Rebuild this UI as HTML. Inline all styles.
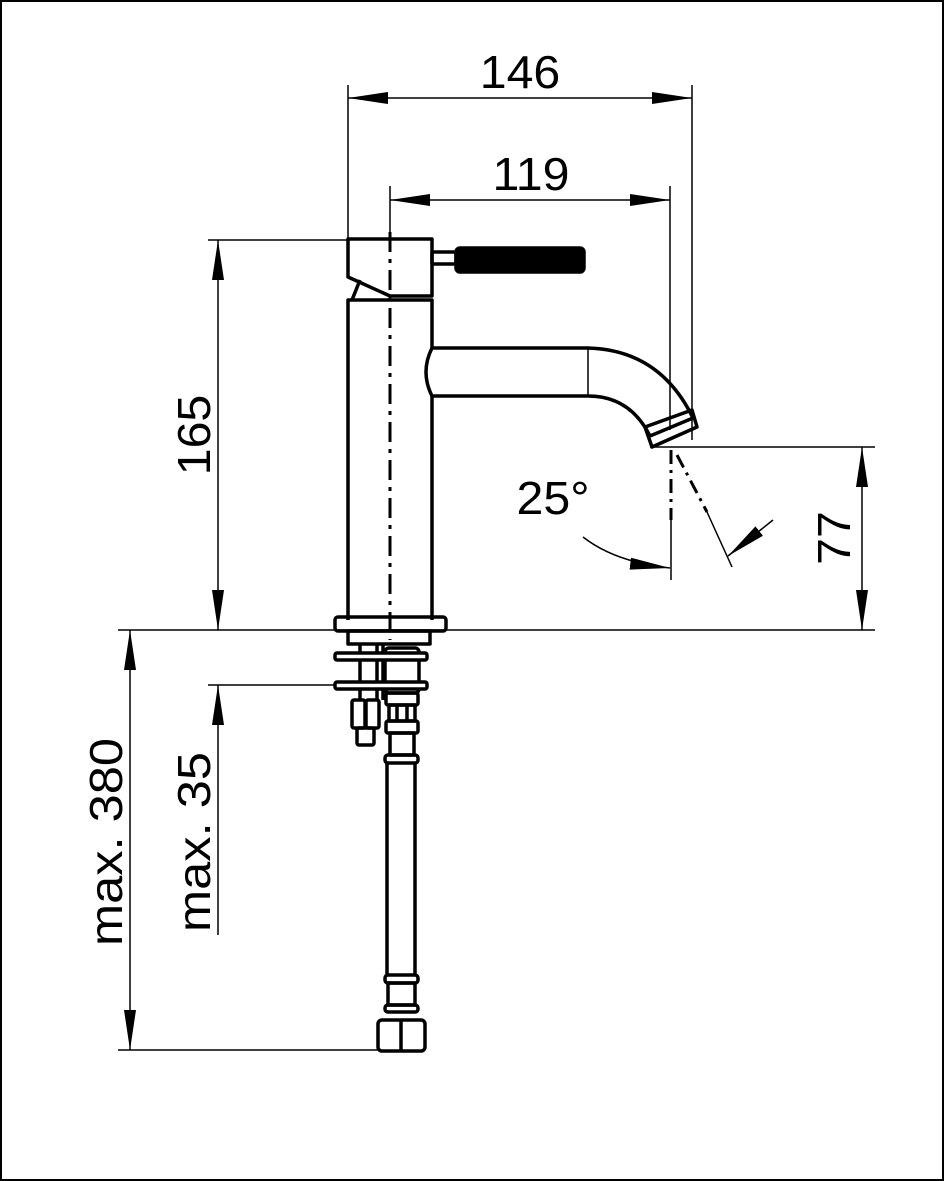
<!DOCTYPE html>
<html><head><style>html,body{margin:0;padding:0;background:#fff}svg{display:block}text{font-family:"Liberation Sans",sans-serif;font-size:46px;fill:#000}</style></head>
<body>
<svg width="944" height="1181" viewBox="0 0 944 1181" xmlns="http://www.w3.org/2000/svg">
<defs>
<marker id="a" viewBox="0 0 40 12" refX="40" refY="6" markerWidth="40" markerHeight="12" markerUnits="userSpaceOnUse" orient="auto-start-reverse"><path d="M0,0L40,6L0,12z" fill="#000"/></marker>
</defs>
<rect x="1" y="1" width="942" height="1179" fill="none" stroke="#000" stroke-width="2"/>
<g stroke="#000" stroke-width="1.5" fill="none">
<line x1="348" y1="85" x2="348" y2="240"/>
<line x1="692" y1="85" x2="692" y2="440"/>
<line x1="390" y1="186" x2="390" y2="236"/>
<line x1="670" y1="186" x2="670" y2="430"/>
<line x1="208" y1="240" x2="348" y2="240"/>
<line x1="118" y1="630" x2="875" y2="630"/>
<line x1="208" y1="685" x2="345" y2="685"/>
<line x1="118" y1="1050" x2="380" y2="1050"/>
<line x1="650" y1="447" x2="875" y2="447"/>
<line x1="348" y1="98" x2="692" y2="98" marker-start="url(#a)" marker-end="url(#a)"/>
<line x1="390" y1="200" x2="670" y2="200" marker-start="url(#a)" marker-end="url(#a)"/>
<line x1="218" y1="240" x2="218" y2="630" marker-start="url(#a)" marker-end="url(#a)"/>
<line x1="218" y1="935" x2="218" y2="685" marker-end="url(#a)"/>
<line x1="130" y1="630" x2="130" y2="1050" marker-start="url(#a)" marker-end="url(#a)"/>
<line x1="862" y1="447" x2="862" y2="630" marker-start="url(#a)" marker-end="url(#a)"/>
<line x1="671" y1="450" x2="671" y2="520" stroke-width="3" stroke-dasharray="14,6,3,6"/>
<line x1="671" y1="520" x2="671" y2="580"/>
<line x1="677" y1="455" x2="707" y2="512" stroke-width="3" stroke-dasharray="14,6,3,6"/>
<line x1="707" y1="512" x2="732" y2="567"/>
<path d="M583,537 Q615,562 670,568" marker-end="url(#a)"/>
<line x1="773" y1="520" x2="728" y2="556" marker-end="url(#a)"/>
<line x1="390" y1="232" x2="390" y2="640" stroke-width="3" stroke-dasharray="20,7,4,7"/>
</g>
<g stroke="#000" stroke-width="3.5" fill="none" stroke-linejoin="round">
<path d="M348,239 L432,239 L432,296 L390,296 L348,277 Z"/>
<path d="M360,280 L352,300"/>
<rect x="432" y="252" width="24" height="12"/>
<rect x="456" y="248" width="128" height="24" rx="4" fill="#000"/>
<path d="M348,620 L348,300 L432,300 L432,348 M432,396 L432,620"/>
<path d="M432,348 L588,348 Q660,350 693,418 L650,436 Q630,396 588,396 L432,396 Q420,372 432,348 Z"/>
<line x1="588" y1="348" x2="588" y2="396" stroke-width="1.5"/>
<path d="M645,427 L692,410 L697,427 L652,447 Z"/>
<rect x="335" y="617" width="111" height="14" rx="3"/>
<rect x="348" y="631" width="82" height="13"/>
<line x1="360" y1="644" x2="360" y2="700"/><line x1="377" y1="644" x2="377" y2="700"/>
<line x1="383" y1="644" x2="383" y2="700"/>
<rect x="385" y="648" width="34" height="45" rx="4"/>
<rect x="335" y="653" width="92" height="7" rx="2" fill="#fff"/>
<rect x="335" y="682" width="92" height="7" rx="2" fill="#fff"/>
<rect x="352" y="700" width="13" height="28" rx="2"/>
<rect x="366" y="700" width="13" height="28" rx="2"/>
<rect x="357" y="728" width="17" height="17" rx="2"/>
<rect x="386" y="693" width="32" height="12" rx="2"/>
<rect x="389" y="705" width="26" height="16"/>
<line x1="397" y1="705" x2="397" y2="721"/><line x1="407" y1="705" x2="407" y2="721"/>
<rect x="386" y="721" width="32" height="12" rx="2"/>
<rect x="390" y="733" width="24" height="22"/>
<rect x="385" y="755" width="33" height="8" rx="3"/>
<line x1="387" y1="763" x2="387" y2="975"/><line x1="415" y1="763" x2="415" y2="975"/>
<rect x="385" y="975" width="33" height="8" rx="3"/>
<rect x="388" y="983" width="27" height="22"/>
<rect x="385" y="1005" width="33" height="7" rx="3"/>
<rect x="378" y="1020" width="47" height="31" rx="4"/>
<line x1="401" y1="1020" x2="401" y2="1051"/>
</g>
<text x="520" y="88" text-anchor="middle" transform="translate(520,0) scale(1.05,1) translate(-520,0)">146</text>
<text x="531" y="190" text-anchor="middle" transform="translate(531,0) scale(1.05,1) translate(-531,0)">119</text>
<text x="553" y="514" text-anchor="middle" transform="translate(553,0) scale(1.05,1) translate(-553,0)">25°</text>
<text transform="translate(210,435) rotate(-90) scale(1.05,1)" text-anchor="middle">165</text>
<text transform="translate(850,538) rotate(-90) scale(1.05,1)" text-anchor="middle">77</text>
<text transform="translate(122,842) rotate(-90) scale(1.1,1)" text-anchor="middle">max. 380</text>
<text transform="translate(210,842) rotate(-90) scale(1.1,1)" text-anchor="middle">max. 35</text>
</svg>
</body></html>
